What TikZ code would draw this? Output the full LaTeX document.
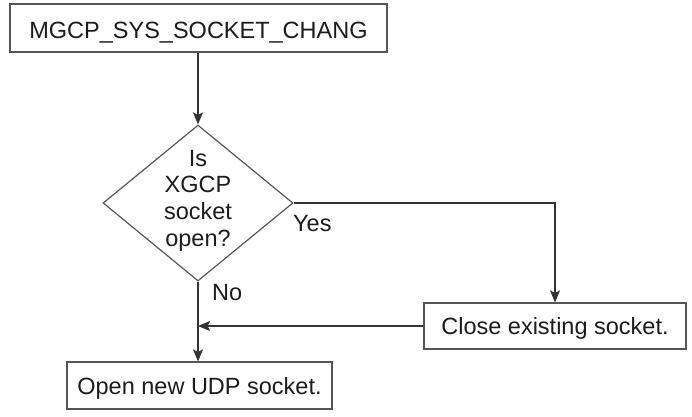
\documentclass[tikz,border=0pt]{standalone}
\usepackage{fontspec}
\setmainfont{Liberation Sans}
\usetikzlibrary{shapes.geometric,arrows.meta}
\definecolor{edgegray}{HTML}{555555}
\definecolor{linegray}{HTML}{333333}
\definecolor{inkgray}{HTML}{1C1C1C}
\begin{document}
\begin{tikzpicture}[x=1pt,y=-1pt,
  every node/.style={font=\fontsize{23.5}{26.7}\selectfont, text=inkgray},
  procbox/.style={draw=edgegray, line width=1.2pt, rectangle, inner sep=0pt,
    text height=17pt, text depth=0pt, fill=white},
  decision/.style={draw=edgegray, line width=1.2pt, diamond, inner sep=0pt,
    minimum width=190pt, minimum height=156pt},
  flow/.style={draw=linegray, line width=1.2pt,
    -{Stealth[length=12pt, width=10pt, inset=2.5pt]}},
  lbl/.style={anchor=base west, inner sep=0pt}]
  \useasboundingbox (0,0) rectangle (692,416);

  % process steps
  \node[procbox, minimum width=377pt, minimum height=48pt, text height=20pt]
    (start) at (198.5,28) {MGCP\_SYS\_SOCKET\_CHANG};
  \node[decision] (dec) at (198,203) {};
  \node[align=center, inner sep=0pt] (question) at (198,200.5)
    {Is\\XGCP\\socket\\open?};
  \node[procbox, minimum width=262pt, minimum height=46pt]
    (close) at (555,326) {Close existing socket.};
  \node[procbox, minimum width=265pt, minimum height=47pt]
    (open) at (199.5,385.5) {Open new UDP socket.};

  % branch labels
  \node[lbl] (yes) at (293,231) {Yes};
  \node[lbl] (no) at (212,300.5) {No};

  % connectors
  \draw[flow] (start.south -| dec.north) -- (dec.north);
  \draw[flow] (dec.east) -| (close.north);
  \draw[flow] (dec.south) -- (dec.south |- open.north);
  \draw[flow] (close.west) -- (close.west -| dec.south);
\end{tikzpicture}
\end{document}
